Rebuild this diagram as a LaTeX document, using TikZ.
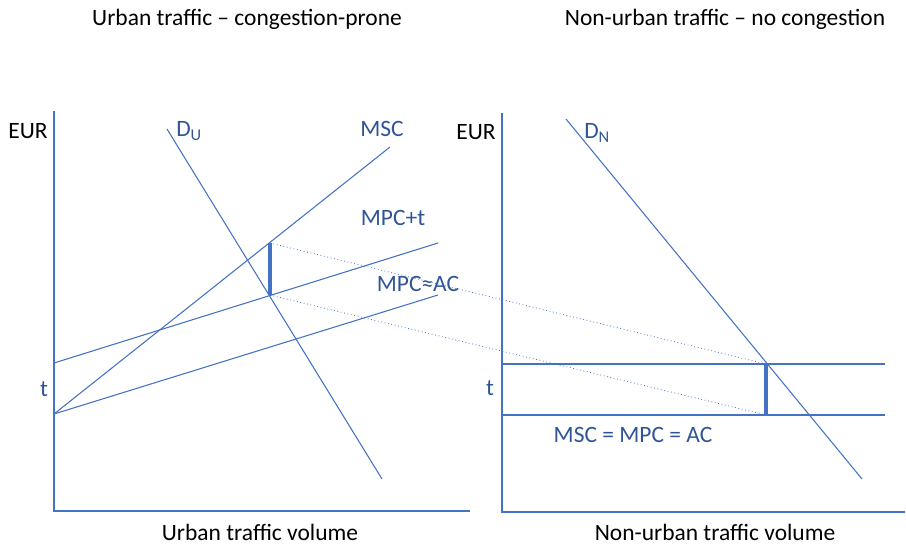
\documentclass[tikz,border=0pt]{standalone}
\usepackage{fontspec}
\setmainfont{Carlito}
\usepackage{tikz}
\usetikzlibrary{positioning}
\definecolor{curvecolor}{HTML}{4472C4}
\definecolor{labelcolor}{HTML}{2F5597}

\tikzset{
    curve/.style={draw=curvecolor, line width=0.8pt},
    gap/.style={draw=curvecolor, line width=2.4pt},
    carry/.style={draw=curvecolor, line width=0.6pt, dotted},
    lbl/.style={font=\fontsize{17.6}{20}\selectfont, text=labelcolor, inner sep=0pt},
    txt/.style={font=\fontsize{17.6}{20}\selectfont, text=black, inner sep=0pt}
}

\begin{document}
\begin{tikzpicture}[x=0.75pt, y=-0.75pt]
    \useasboundingbox (0,0) rectangle (906,544);

    % Titles
    \node[txt] (titleU) at (247,19) {Urban traffic -- congestion-prone};
    \node[txt] (titleN) at (725,19) {Non-urban traffic -- no congestion};

    % Urban panel: axes
    \coordinate (uTop) at (54,111);
    \coordinate (uO) at (54,511);
    \coordinate (uEnd) at (470,511);
    \draw[curve] (uTop) -- (uO) -- (uEnd);
    \node[txt] (eurU) at (28,131) {EUR};
    \node[lbl] (tU) at (44,389) {t};
    \node[txt] (volU) at (260,532) {Urban traffic volume};

    % Urban panel: demand and cost curves
    \coordinate (duA) at (167,129);
    \coordinate (duB) at (382,479);
    \coordinate (mscA) at (54,414);
    \coordinate (mscB) at (390,147);
    \coordinate (mptA) at (54,363);
    \coordinate (mptB) at (438,243);
    \coordinate (mpcB) at (438,295);
    \draw[curve] (duA) -- (duB);
    \draw[curve] (mscA) -- (mscB);
    \draw[curve] (mptA) -- (mptB);
    \draw[curve] (mscA) -- (mpcB);
    \node[lbl, anchor=west] (dU) at (176,131) {D\textsubscript{U}};
    \node[lbl] (mscL) at (382,129) {MSC};
    \node[lbl] (mptL) at (393,218) {MPC+t};
    \node[lbl] (mpcL) at (418,284) {MPC≈AC};

    % Urban panel: toll gap
    \coordinate (uHi) at (270,243);
    \coordinate (uLo) at (270,295);
    \draw[gap] (uHi) -- (uLo);

    % Non-urban panel: axes
    \coordinate (nTop) at (502,113);
    \coordinate (nO) at (502,512);
    \coordinate (nEnd) at (905,512);
    \draw[curve] (nTop) -- (nO) -- (nEnd);
    \node[txt] (eurN) at (476,132) {EUR};
    \node[lbl] (tN) at (490,388) {t};
    \node[txt] (volN) at (715,532) {Non-urban traffic volume};

    % Non-urban panel: demand and flat costs
    \coordinate (dnA) at (566,119);
    \coordinate (dnB) at (862,479);
    \draw[curve] (dnA) -- (dnB);
    \node[lbl, anchor=west] (dN) at (584,133) {D\textsubscript{N}};
    \coordinate (hiA) at (502,364);
    \coordinate (hiB) at (885,364);
    \coordinate (loA) at (502,415);
    \coordinate (loB) at (885,415);
    \draw[curve] (hiA) -- (hiB);
    \draw[curve] (loA) -- (loB);
    \node[lbl] (flatL) at (633,435) {MSC = MPC = AC};

    % Non-urban panel: toll gap
    \coordinate (nHi) at (766,364);
    \coordinate (nLo) at (766,415);
    \draw[gap] (nHi) -- (nLo);

    % Links between the two gaps
    \draw[carry] (uHi) -- (nHi);
    \draw[carry] (uLo) -- (nLo);
\end{tikzpicture}
\end{document}
